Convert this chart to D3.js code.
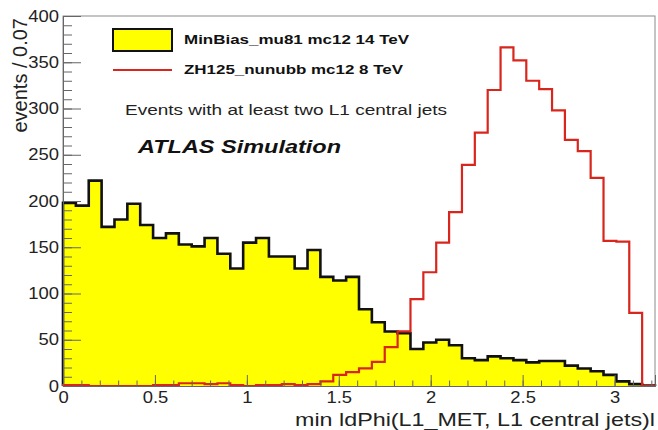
<!DOCTYPE html>
<html>
<head>
<meta charset="utf-8">
<script src="https://cdn.jsdelivr.net/npm/d3@7"></script>
<style>
  html, body { margin: 0; padding: 0; background: #fff; }
  svg { display: block; }
  text { font-family: "Liberation Sans", Arial, Helvetica, sans-serif; }
</style>
</head>
<body>
<svg id="chart" width="658" height="430"></svg>
<script>
// ---------------- data ----------------
const binWidth = 0.07;
const xMax = 3.22;
const minBias = [198, 195, 222, 172, 180, 197, 174, 160, 165, 153,
                 151, 160, 143, 127, 155, 160, 140, 140, 127, 147,
                 118, 114, 118, 83, 69, 59, 57, 40, 47, 50,
                 44, 30, 28, 32, 30, 28, 25.5, 27, 27, 22,
                 19, 16, 12, 5, 2, 0.5];
const zh125 = [1, 1, 0, 0, 0, 0, 0, 1, 1, 3,
               3, 2, 3, 1, 0, 1, 1, 2, 1, 2,
               5, 12, 15, 19, 26, 42, 59, 94, 123, 155,
               188, 239, 274, 320, 366, 352, 330, 321, 298, 266,
               254, 225, 157, 156, 79, 0];
const xMajorTicks = [0, 0.5, 1, 1.5, 2, 2.5, 3];
const xMinorTicks = d3.range(0, 33).map(i => i / 10);
const yMajorTicks = [0, 50, 100, 150, 200, 250, 300, 350, 400];
const yMinorTicks = d3.range(0, 41).map(i => i * 10);
const legendLabels = ["MinBias_mu81 mc12 14 TeV", "ZH125_nunubb mc12 8 TeV"];
const noteText = "Events with at least two L1 central jets";
const atlasText = "ATLAS Simulation";
const xTitle = "min ldPhi(L1_MET, L1 central jets)l";
const yTitle = "events / 0.07";

// ---------------- layout ----------------
const L = 63, R = 655, T = 16, B = 386;
const svg = d3.select("#chart");
const x = d3.scaleLinear().domain([0, xMax]).range([L, R]);
const y = d3.scaleLinear().domain([0, 400]).range([B, T]);

function stepPath(vals) {
  const p = d3.path();
  p.moveTo(x(0), y(0));
  vals.forEach((v, i) => {
    p.lineTo(x(i * binWidth), y(v));
    p.lineTo(x((i + 1) * binWidth), y(v));
  });
  p.lineTo(x(vals.length * binWidth), y(0));
  return p;
}

// frame
svg.append("rect")
  .attr("x", L).attr("y", T).attr("width", R - L).attr("height", B - T)
  .attr("fill", "none").attr("stroke", "#8a8a8a").attr("stroke-width", 1);

// yellow fill
svg.append("path")
  .attr("d", stepPath(minBias).toString() + "Z")
  .attr("fill", "#ffff00").attr("stroke", "none");

// black outline
svg.append("path")
  .attr("d", stepPath(minBias).toString())
  .attr("fill", "none").attr("stroke", "#111").attr("stroke-width", 2.6)
  .attr("stroke-linejoin", "miter");

// red outline
svg.append("path")
  .attr("d", stepPath(zh125).toString())
  .attr("fill", "none").attr("stroke", "#d8261c").attr("stroke-width", 2.2)
  .attr("stroke-linejoin", "miter");

function stretch(sel, k) {
  sel.each(function () {
    const w = this.getComputedTextLength();
    d3.select(this).attr("textLength", w * k).attr("lengthAdjust", "spacingAndGlyphs");
  });
}

// x axis
const gx = svg.append("g").attr("transform", `translate(0,${B})`);
gx.call(d3.axisBottom(x).tickValues(xMinorTicks).tickSize(-5.5).tickFormat(""));
gx.append("g").call(d3.axisBottom(x).tickValues(xMajorTicks).tickSize(-11).tickPadding(6)
  .tickFormat(d3.format("")));
gx.selectAll(".domain").attr("stroke", "#666");
gx.selectAll(".tick line").attr("stroke", "#666");
gx.selectAll(".tick text").attr("font-size", 16).attr("fill", "#222")
  .attr("font-family", "Liberation Sans, Arial, sans-serif");
stretch(gx.selectAll(".tick text"), 1.15);

// y axis
const gy = svg.append("g").attr("transform", `translate(${L},0)`);
gy.call(d3.axisLeft(y).tickValues(yMinorTicks).tickSize(-9).tickFormat(""));
gy.append("g").call(d3.axisLeft(y).tickValues(yMajorTicks).tickSize(-18).tickPadding(4)
  .tickFormat(d3.format("")));
gy.selectAll(".domain").attr("stroke", "#666");
gy.selectAll(".tick line").attr("stroke", "#666");
gy.selectAll(".tick text").attr("font-size", 16).attr("fill", "#222")
  .attr("font-family", "Liberation Sans, Arial, sans-serif");
stretch(gy.selectAll(".tick text"), 1.15);

// axis titles
svg.append("text")
  .attr("x", 655).attr("y", 426).attr("text-anchor", "end")
  .attr("font-size", 19).attr("fill", "#222")
  .attr("textLength", 360).attr("lengthAdjust", "spacingAndGlyphs")
  .text(xTitle);
svg.append("text")
  .attr("transform", "translate(27,18) rotate(-90)")
  .attr("text-anchor", "end")
  .attr("font-size", 20).attr("fill", "#222")
  .text(yTitle);

// legend
svg.append("rect")
  .attr("x", 113).attr("y", 29).attr("width", 59).attr("height", 22)
  .attr("fill", "#ffff00").attr("stroke", "#111").attr("stroke-width", 2);
svg.append("line")
  .attr("x1", 113).attr("x2", 172).attr("y1", 70).attr("y2", 70)
  .attr("stroke", "#d8261c").attr("stroke-width", 2.2);
svg.append("text")
  .attr("x", 184).attr("y", 44).attr("font-size", 13).attr("font-weight", "bold")
  .attr("fill", "#111").attr("textLength", 225).attr("lengthAdjust", "spacingAndGlyphs")
  .text(legendLabels[0]);
svg.append("text")
  .attr("x", 184).attr("y", 74).attr("font-size", 13).attr("font-weight", "bold")
  .attr("fill", "#111").attr("textLength", 219).attr("lengthAdjust", "spacingAndGlyphs")
  .text(legendLabels[1]);

// annotations
svg.append("text")
  .attr("x", 125).attr("y", 115).attr("font-size", 15.5).attr("fill", "#222")
  .attr("textLength", 322).attr("lengthAdjust", "spacingAndGlyphs")
  .text(noteText);
svg.append("text")
  .attr("x", 138).attr("y", 153).attr("font-size", 18)
  .attr("font-weight", "bold").attr("font-style", "italic").attr("fill", "#111")
  .attr("textLength", 203).attr("lengthAdjust", "spacingAndGlyphs")
  .text(atlasText);
</script>
</body>
</html>
